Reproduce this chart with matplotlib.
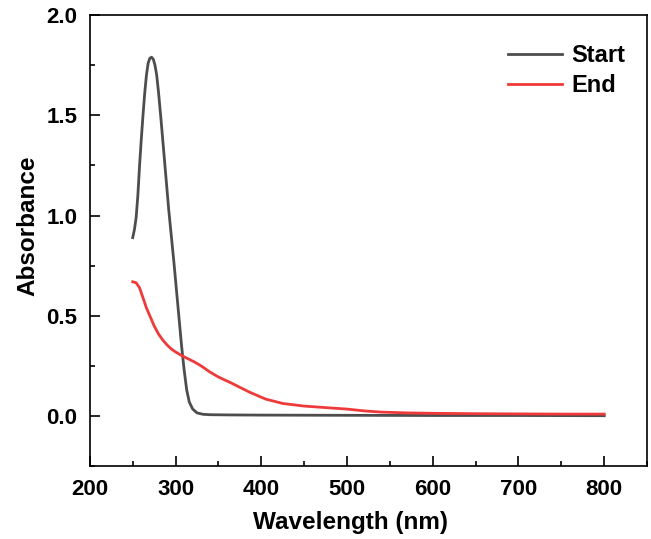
import numpy as np
import matplotlib.pyplot as plt
from matplotlib.ticker import MultipleLocator

plt.rcParams['font.family'] = ['Liberation Sans', 'DejaVu Sans']
plt.rcParams['font.weight'] = 'bold'

# Start spectrum (nm, absorbance)
wl_start = [250, 252, 254, 256, 258, 260, 262, 264, 266, 268, 270, 272, 274, 276,
            278, 280, 283, 286, 289, 292, 295, 298, 301, 304, 307, 310, 313, 316,
            320, 325, 332, 340, 360, 400, 500, 600, 700, 800]
ab_start = [0.89, 0.93, 0.99, 1.10, 1.25, 1.38, 1.50, 1.61, 1.70, 1.76, 1.785, 1.79, 1.78, 1.75,
            1.70, 1.62, 1.48, 1.33, 1.18, 1.03, 0.90, 0.77, 0.63, 0.49, 0.35, 0.23, 0.13, 0.07,
            0.035, 0.016, 0.009, 0.007, 0.006, 0.005, 0.004, 0.003, 0.003, 0.002]

# End spectrum
wl_end = [250, 254, 258, 262, 266, 270, 275, 280, 285, 290, 295, 300, 308, 315,
          322, 330, 340, 350, 365, 386, 405, 425, 450, 483, 500, 520, 540, 570,
          600, 650, 700, 750, 800]
ab_end = [0.67, 0.665, 0.64, 0.59, 0.54, 0.50, 0.45, 0.41, 0.38, 0.355, 0.335, 0.32, 0.30, 0.285,
          0.27, 0.25, 0.22, 0.195, 0.165, 0.12, 0.085, 0.063, 0.05, 0.04, 0.035, 0.026, 0.02, 0.016,
          0.014, 0.012, 0.011, 0.010, 0.010]

fig = plt.figure(figsize=(6.51, 5.39), dpi=100)
ax = fig.add_axes([0.138, 0.135, 0.856, 0.837])

ax.plot(wl_start, ab_start, color='#4d4d4d', lw=2.0, label='Start')
ax.plot(wl_end, ab_end, color='#ee3a3a', lw=2.0, label='End')

ax.set_xlim(200, 850)
ax.set_ylim(-0.25, 2.0)
ax.set_xticks([200, 300, 400, 500, 600, 700, 800])
ax.set_yticks([0.0, 0.5, 1.0, 1.5, 2.0])
ax.xaxis.set_minor_locator(MultipleLocator(50))
ax.yaxis.set_minor_locator(MultipleLocator(0.25))
ax.tick_params(which='both', direction='in', top=False, right=False, width=1.2)
ax.tick_params(which='major', length=7, labelsize=16, pad=9)
ax.tick_params(which='minor', length=3.5)
for s in ax.spines.values():
    s.set_linewidth(1.2)

ax.set_xlabel('Wavelength (nm)', fontsize=17.5, fontweight='bold')
ax.set_ylabel('Absorbance', fontsize=17.5, fontweight='bold')
ax.xaxis.set_label_coords(0.467, -0.1)
ax.yaxis.set_label_coords(-0.09, 0.532)

ax.legend(loc='upper left', bbox_to_anchor=(0.75, 0.935), frameon=False,
          fontsize=17, handlelength=2.3, handletextpad=0.4, labelspacing=0.3,
          borderpad=0, borderaxespad=0)

fig.savefig('out.png', dpi=100)
